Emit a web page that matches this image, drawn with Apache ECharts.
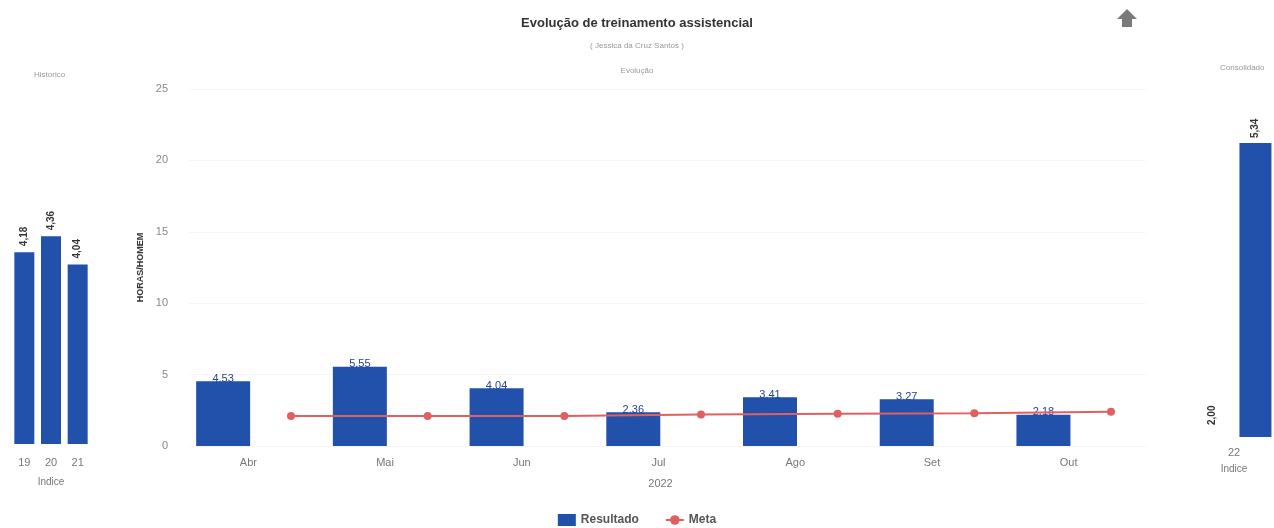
<!DOCTYPE html>
<html>
<head>
<meta charset="utf-8">
<script src="https://cdn.jsdelivr.net/npm/echarts@6/dist/echarts.min.js"></script>
<style>
html,body{margin:0;padding:0;background:#fff;}
#chart{width:1274px;height:528px;}
</style>
</head>
<body>
<div id="chart"></div>
<script>
// ---- data ----
const months = ['Abr', 'Mai', 'Jun', 'Jul', 'Ago', 'Set', 'Out'];
const resultado = [4.53, 5.55, 4.04, 2.36, 3.41, 3.27, 2.18];
const meta = [2.1, 2.1, 2.1, 2.2, 2.25, 2.3, 2.4];
const histCategories = ['19', '20', '21'];
const histValues = [4.18, 4.36, 4.04];
const consCategories = ['22'];
const consMeta = [2.00];
const consValues = [5.34];
const yTicks = [0, 25, 5];

const BLUE = '#2251ab';
const RED = '#e06060';
const commaFmt = p => p.value.toFixed(2).replace('.', ',');

const chart = echarts.init(document.getElementById('chart'));
chart.setOption({
  animation: false,
  textStyle: {fontFamily: 'Liberation Sans, Arial, sans-serif'},
  title: [
    {text: 'Evolução de treinamento assistencial', left: 'center', top: 12,
     textStyle: {fontSize: 13, fontWeight: 'bold', color: '#333'}},
    {text: '( Jessica da Cruz Santos )', left: 'center', top: 37,
     textStyle: {fontSize: 8, fontWeight: 'normal', color: '#999'}},
    {text: 'Evolução', left: 'center', top: 62,
     textStyle: {fontSize: 8, fontWeight: 'normal', color: '#999'}},
    {text: 'Historico', left: 29, top: 66,
     textStyle: {fontSize: 8, fontWeight: 'normal', color: '#999'}},
    {text: 'Consolidado', left: 1215, top: 59,
     textStyle: {fontSize: 8, fontWeight: 'normal', color: '#999'}}
  ],
  graphic: [{
    type: 'polygon',
    shape: {points: [[1127, 9], [1137, 19], [1132, 19], [1132, 27], [1122, 27], [1122, 19], [1117, 19]]},
    style: {fill: '#7a7a7a'}
  }],
  legend: {
    data: [{name: 'Resultado', icon: 'rect'}, {name: 'Meta'}],
    top: 509, left: 'center',
    itemWidth: 18, itemHeight: 12, itemGap: 26,
    textStyle: {fontSize: 12, fontWeight: 'bold', color: '#555'}
  },
  grid: [
    {left: 189, right: 128, top: 89, bottom: 82},
    {left: 291, right: 163, top: 89, bottom: 82},
    {left: 11, width: 80, top: 92, bottom: 84},
    {left: 1194, width: 80, top: 85, bottom: 91}
  ],
  xAxis: [
    {gridIndex: 0, type: 'category', data: months,
     name: '2022', nameLocation: 'middle', nameGap: 32,
     nameTextStyle: {fontSize: 11, color: '#777', padding: [0, 14, 0, 0]},
     axisLine: {show: false}, axisTick: {show: false},
     axisLabel: {fontSize: 11, color: '#777', margin: 11, padding: [0, 18, 0, 0]}},
    {gridIndex: 1, type: 'category', data: months, boundaryGap: false, show: false},
    {gridIndex: 2, type: 'category', data: histCategories,
     name: 'Indice', nameLocation: 'middle', nameGap: 33,
     nameTextStyle: {fontSize: 10, color: '#777'},
     axisLine: {show: false}, axisTick: {show: false},
     axisLabel: {fontSize: 11, color: '#777', margin: 13}},
    {gridIndex: 3, type: 'category', data: consCategories,
     name: 'Indice', nameLocation: 'middle', nameGap: 27,
     nameTextStyle: {fontSize: 10, color: '#777'},
     axisLine: {show: false}, axisTick: {show: false},
     axisLabel: {fontSize: 11, color: '#777', margin: 10}}
  ],
  yAxis: [
    {gridIndex: 0, type: 'value', min: yTicks[0], max: yTicks[1], interval: yTicks[2],
     name: 'HORAS/HOMEM', nameLocation: 'middle', nameGap: 44,
     nameTextStyle: {fontSize: 9, fontWeight: 'bold', color: '#333'},
     axisLine: {show: false}, axisTick: {show: false},
     axisLabel: {fontSize: 11, color: '#888', margin: 21},
     splitLine: {lineStyle: {color: '#f5f5f5'}}},
    {gridIndex: 1, type: 'value', min: yTicks[0], max: yTicks[1], show: false},
    {gridIndex: 2, type: 'value', min: 2, max: 6, show: false},
    {gridIndex: 3, type: 'value', min: 2, max: 6, show: false}
  ],
  series: [
    {name: 'Resultado', type: 'bar', xAxisIndex: 0, yAxisIndex: 0,
     data: resultado, barWidth: 54, barGap: '26.7%',
     itemStyle: {color: BLUE},
     label: {show: true, position: 'top', distance: -3, fontSize: 11, color: '#24438f',
       formatter: p => p.value.toFixed(2)}},
    {name: 'ghost', type: 'bar', xAxisIndex: 0, yAxisIndex: 0,
     data: meta, barWidth: 54, barGap: '26.7%',
     itemStyle: {color: 'rgba(0,0,0,0)'}, silent: true},
    {name: 'Meta', type: 'line', xAxisIndex: 1, yAxisIndex: 1,
     data: meta, symbol: 'circle', symbolSize: 8,
     lineStyle: {color: RED, width: 2}, itemStyle: {color: RED}},
    {name: 'Historico', type: 'bar', xAxisIndex: 2, yAxisIndex: 2,
     data: histValues, barWidth: 20,
     itemStyle: {color: BLUE},
     label: {show: true, position: 'top', rotate: 90, align: 'left', verticalAlign: 'middle',
       distance: 6, fontSize: 10, fontWeight: 'bold', color: '#333', formatter: commaFmt}},
    {name: 'MetaCons', type: 'bar', xAxisIndex: 3, yAxisIndex: 3,
     data: consMeta, barWidth: 32, barGap: '34%',
     itemStyle: {color: BLUE},
     label: {show: true, position: 'top', rotate: 90, align: 'left', verticalAlign: 'middle',
       distance: 12, fontSize: 10, fontWeight: 'bold', color: '#333', formatter: commaFmt}},
    {name: 'Consolidado', type: 'bar', xAxisIndex: 3, yAxisIndex: 3,
     data: consValues, barWidth: 32, barGap: '34%',
     itemStyle: {color: BLUE},
     label: {show: true, position: 'top', rotate: 90, align: 'left', verticalAlign: 'middle',
       distance: 5, fontSize: 10, fontWeight: 'bold', color: '#333', formatter: commaFmt}}
  ]
});
</script>
</body>
</html>
